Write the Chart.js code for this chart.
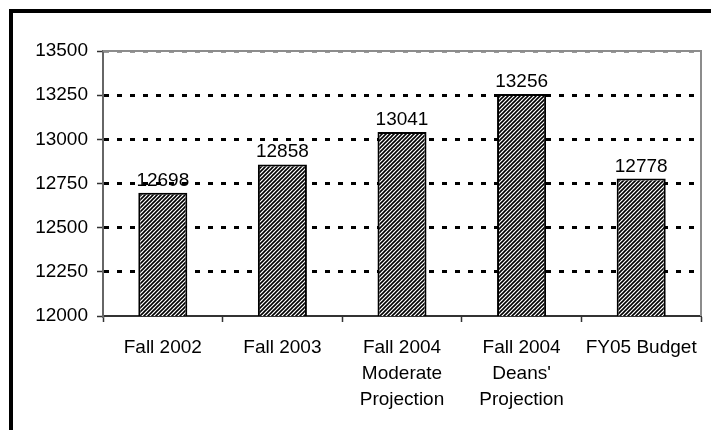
<!DOCTYPE html>
<html>
<head>
<meta charset="utf-8">
<script src="https://cdn.jsdelivr.net/npm/chart.js@4"></script>
<style>
    html, body { margin: 0; padding: 0; background: #fff; }
    #wrap { position: relative; width: 711px; height: 430px; overflow: hidden; }
    #frame {
        position: absolute; left: 9px; top: 9px; width: 800px; height: 500px;
        border-left: 4px solid #000; border-top: 4px solid #000; box-sizing: border-box;
    }
    canvas { position: absolute; left: 0; top: 0; }
</style>
</head>
<body>
<div id="wrap">
    <div id="frame"></div>
    <canvas id="chart" width="711" height="430"></canvas>
</div>
<script>
// Data
const categories = [
    'Fall 2002',
    'Fall 2003',
    ['Fall 2004', 'Moderate', 'Projection'],
    ['Fall 2004', "Deans'", 'Projection'],
    'FY05 Budget'
];
const enrollment = [12698, 12858, 13041, 13256, 12778];
const yTicks = [12000, 12250, 12500, 12750, 13000, 13250, 13500];

const FONT = "'Liberation Sans', Arial, sans-serif";

// Diagonal hatch fill like the old Excel pattern
function makeHatch() {
    const c = document.createElement('canvas');
    c.width = 4;
    c.height = 4;
    const g = c.getContext('2d');
    g.fillStyle = '#fff';
    g.fillRect(0, 0, 4, 4);
    g.strokeStyle = '#000';
    g.lineWidth = 1.6;
    g.beginPath();
    g.moveTo(-1, 5); g.lineTo(5, -1);
    g.moveTo(-1, 1); g.lineTo(1, -1);
    g.moveTo(3, 5); g.lineTo(5, 3);
    g.stroke();
    return g.createPattern(c, 'repeat');
}

// Gray frame on the top and right of the plot area
const plotFrame = {
    id: 'plotFrame',
    beforeDatasetsDraw(chart) {
        const { ctx, chartArea: a } = chart;
        ctx.save();
        ctx.strokeStyle = '#8c8c8c';
        ctx.lineWidth = 2;
        ctx.beginPath();
        ctx.moveTo(a.left, a.top);
        ctx.lineTo(a.right, a.top);
        ctx.lineTo(a.right, a.bottom);
        ctx.stroke();
        ctx.restore();
    }
};

// Value labels above each bar
const valueLabels = {
    id: 'valueLabels',
    afterDatasetsDraw(chart) {
        const { ctx } = chart;
        const meta = chart.getDatasetMeta(0);
        ctx.save();
        ctx.font = '19px ' + FONT;
        ctx.fillStyle = '#000';
        ctx.textAlign = 'center';
        ctx.textBaseline = 'alphabetic';
        meta.data.forEach((bar, i) => {
            ctx.fillText(String(enrollment[i]), bar.x, bar.y - 7);
        });
        ctx.restore();
    }
};

const chart = new Chart(document.getElementById('chart'), {
    type: 'bar',
    data: {
        labels: categories,
        datasets: [{
            data: enrollment,
            backgroundColor: makeHatch(),
            borderColor: '#000',
            borderWidth: 2,
            borderSkipped: false,
            barPercentage: 0.41,
            categoryPercentage: 1
        }]
    },
    options: {
        responsive: false,
        animation: false,
        layout: { padding: { left: 0, right: 10, top: 51, bottom: 0 } },
        plugins: {
            legend: { display: false },
            tooltip: { enabled: false }
        },
        scales: {
            x: {
                offset: true,
                grid: {
                    offset: true,
                    drawOnChartArea: false,
                    tickLength: 6,
                    tickColor: '#333',
                    tickWidth: 1.5
                },
                border: { color: '#333', width: 2 },
                ticks: {
                    color: '#000',
                    font: { family: FONT, size: 19, lineHeight: 1.37 },
                    padding: 13,
                    maxRotation: 0,
                    autoSkip: false
                },
                afterFit(scale) { scale.height = 114; }
            },
            y: {
                min: 12000,
                max: 13500,
                afterBuildTicks(scale) {
                    scale.ticks = yTicks.map(v => ({ value: v }));
                },
                grid: {
                    color: (c) => c.tick.value === 13500 ? '#9a9a9a'
                        : c.tick.value === 12000 ? 'rgba(0,0,0,0)' : '#000',
                    lineWidth: 3,
                    tickLength: 6,
                    tickColor: '#333',
                    tickWidth: 1.5,
                    tickBorderDash: []
                },
                border: { color: '#666', width: 2, dash: [5, 8] },
                ticks: {
                    color: '#000',
                    font: { family: FONT, size: 19 },
                    padding: 9,
                    callback: (v) => String(v)
                },
                afterFit(scale) { scale.width = 103; }
            }
        }
    },
    plugins: [plotFrame, valueLabels]
});
</script>
</body>
</html>
